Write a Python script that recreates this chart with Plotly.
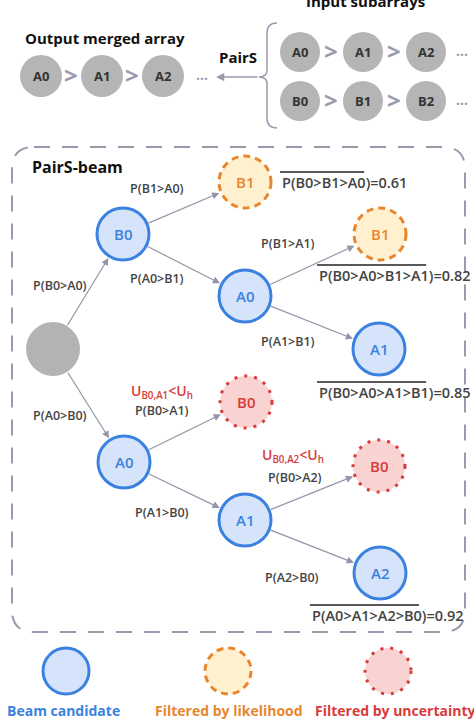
import plotly.graph_objects as go

# ---- diagram content ----
output_row = ["A0", "A1", "A2"]
input_row_a = ["A0", "A1", "A2"]
input_row_b = ["B0", "B1", "B2"]

node_labels = ["B0", "B1", "A0", "B1", "A1", "A0", "B0", "A1", "B0", "A2"]
node_status = ["beam", "likelihood", "beam", "likelihood", "beam",
               "beam", "uncertainty", "beam", "uncertainty", "beam"]

# (parent, child, label) ; parent -1 is the root
edge_parent = [-1, -1, 0, 0, 2, 2, 5, 5, 7, 7]
edge_child = [0, 5, 1, 2, 3, 4, 6, 7, 8, 9]
edge_labels = ["P(B0>A0)", "P(A0>B0)", "P(B1>A0)", "P(A0>B1)", "P(B1>A1)",
               "P(A1>B1)", "P(B0>A1)", "P(A1>B0)", "P(B0>A2)", "P(A2>B0)"]

path_labels = ["P(B0>B1>A0)", "P(B0>A0>B1>A1)", "P(B0>A0>A1>B1)", "P(A0>A1>A2>B0)"]
path_scores = [0.61, 0.82, 0.85, 0.92]

uncert_labels = ["U<sub>B0,A1</sub>&lt;U<sub>h</sub>", "U<sub>B0,A2</sub>&lt;U<sub>h</sub>"]

legend_status = ["beam", "likelihood", "uncertainty"]
legend_labels = ["Beam candidate", "Filtered by likelihood", "Filtered by uncertainty"]

# ---- layout (pixel positions) ----
W, H = 474, 725
FONT = "Open Sans"
GRAY = "#9a9aae"
DARK = "#444444"

STY = {
    "beam": dict(fill="#d6e4fb", line="#3b82e0", dash="solid"),
    "likelihood": dict(fill="#fff0cf", line="#e8862e", dash="7px,5px"),
    "uncertainty": dict(fill="#f8d3d1", line="#d83b3b", dash="3px,7px"),
}

root_pos = (53, 349)
node_pos = [(123, 234), (245, 182), (245, 296), (380, 234), (379, 349),
            (124, 462), (246, 402), (245, 520), (379, 466), (380, 573)]
R = 26
edge_label_pos = [(60, 285), (60, 415), (157, 188), (157, 278), (288, 243),
                  (288, 341), (162, 410), (162, 512), (295, 477), (292, 577)]
path_label_pos = [(280, 182), (317, 275), (317, 392), (310, 615)]
uncert_pos = [(162, 391), (293, 455)]

fig = go.Figure()
fig.add_trace(go.Scatter(x=[0], y=[0], mode="markers", marker=dict(opacity=0),
                         hoverinfo="skip", showlegend=False))


def circle(cx, cy, r, fill, line, dash="solid", width=3):
    fig.add_shape(type="circle", x0=cx - r, x1=cx + r, y0=cy - r, y1=cy + r,
                  fillcolor=fill, line=dict(color=line, width=width, dash=dash),
                  layer="above")


def text(x, y, s, size=13, color=DARK, anchor="center", bold=False, weight=None):
    if bold:
        s = "<b>" + s + "</b>"
    font = dict(family=FONT, size=size, color=color)
    if weight:
        font["weight"] = weight
    fig.add_annotation(x=x, y=y, text=s, showarrow=False, xanchor=anchor,
                       yanchor="middle", font=font)


# width of Open Sans glyphs (em) for the overline lengths
GLYPH = {"P": .603, "(": .296, ")": .296, "B": .648, "A": .633, ">": .572}


def text_width(s, size):
    return sum(GLYPH.get(c, .572) for c in s) * size * 0.97


# ---- top part ----
text(365, 1, "Input subarrays", size=15, color="#111", bold=True)
text(105, 38, "Output merged array", size=15, color="#111", bold=True)
text(238, 57, "PairS", size=15, color="#111", bold=True)

for i, lab in enumerate(output_row):
    cx = 41 + i * 61
    circle(cx, 76, 21, "#b5b5b5", "#b5b5b5", width=0)
    text(cx, 76, lab, size=13, color="#333", bold=True)
    if i < len(output_row) - 1:
        text(cx + 30, 74, ">", size=24, color=GRAY, bold=True)
text(202, 78, "···", size=14, color=GRAY, bold=True)

for row, (labels, cy) in enumerate([(input_row_a, 52), (input_row_b, 101)]):
    for i, lab in enumerate(labels):
        cx = 300 + i * 63
        circle(cx, cy, 20, "#b5b5b5", "#b5b5b5", width=0)
        text(cx, cy, lab, size=13, color="#333", bold=True)
        if i < len(labels) - 1:
            text(cx + 31, cy - 2, ">", size=24, color=GRAY, bold=True)
    text(462, cy + 2, "···", size=14, color=GRAY, bold=True)

# brace and arrow
fig.add_shape(type="path",
              path="M 277,23 Q 267,23 267,33 L 267,70 Q 267,77 259,77 "
                   "Q 267,77 267,84 L 267,118 Q 267,128 277,128",
              line=dict(color=GRAY, width=1.5))
fig.add_annotation(x=216, y=77, ax=259, ay=77, xref="x", yref="y", axref="x", ayref="y",
                   text="", showarrow=True, arrowhead=2, arrowsize=1.1,
                   arrowwidth=1.5, arrowcolor=GRAY)

# ---- dashed box ----
x0, y0, x1, y1, r = 12, 147, 465, 632, 22
fig.add_shape(type="path",
              path=(f"M {x0+r},{y0} L {x1-r},{y0} Q {x1},{y0} {x1},{y0+r} "
                    f"L {x1},{y1-r} Q {x1},{y1} {x1-r},{y1} L {x0+r},{y1} "
                    f"Q {x0},{y1} {x0},{y1-r} L {x0},{y0+r} Q {x0},{y0} {x0+r},{y0} Z"),
              line=dict(color=GRAY, width=2, dash="16px,12px"), layer="below")
text(30, 167, "PairS-beam", size=16, color="#111", anchor="left", bold=True)

# ---- tree ----
for p, c, lab, (lx, ly) in zip(edge_parent, edge_child, edge_labels, edge_label_pos):
    px, py = root_pos if p < 0 else node_pos[p]
    cx, cy = node_pos[c]
    fig.add_annotation(x=cx, y=cy, ax=px, ay=py, xref="x", yref="y", axref="x", ayref="y",
                       text="", showarrow=True, arrowhead=2, arrowsize=1.2,
                       arrowwidth=1.2, arrowcolor="#9494aa", standoff=R + 2,
                       startstandoff=R)
    text(lx, ly, lab, size=12.5, color=DARK, weight=600)

circle(root_pos[0], root_pos[1], 27, "#b3b3b3", "#b3b3b3", width=0)
for lab, st, (cx, cy) in zip(node_labels, node_status, node_pos):
    s = STY[st]
    circle(cx, cy, R, s["fill"], s["line"], s["dash"])
    text(cx, cy, lab, size=15, color=s["line"], weight=600)

for lab, (ux, uy) in zip(uncert_labels, uncert_pos):
    text(ux, uy, lab, size=14, color="#d83b3b", weight=600)

for lab, sc, (tx, ty) in zip(path_labels, path_scores, path_label_pos):
    text(tx, ty, f"{lab}={sc:.2f}", size=14.5, color=DARK, anchor="left", weight=600)
    w = text_width(lab, 14.5)
    fig.add_shape(type="line", x0=tx, x1=tx + w, y0=ty - 10, y1=ty - 10,
                  line=dict(color="#222", width=1.3))

# ---- legend ----
for i, (st, lab) in enumerate(zip(legend_status, legend_labels)):
    cx = [66, 228, 388][i]
    s = STY[st]
    circle(cx, 671, 23, s["fill"], s["line"], s["dash"])
    text([63, 229, 395][i], 710, lab, size=14, color=s["line"], bold=True)

fig.update_layout(
    width=W, height=H, margin=dict(l=0, r=0, t=0, b=0),
    paper_bgcolor="white", plot_bgcolor="white", showlegend=False,
    xaxis=dict(range=[0, W], visible=False, fixedrange=True),
    yaxis=dict(range=[H, 0], visible=False, fixedrange=True),
)
fig.write_html("out.html", config={"displayModeBar": False},
               post_script="document.body.style.margin='0';")
